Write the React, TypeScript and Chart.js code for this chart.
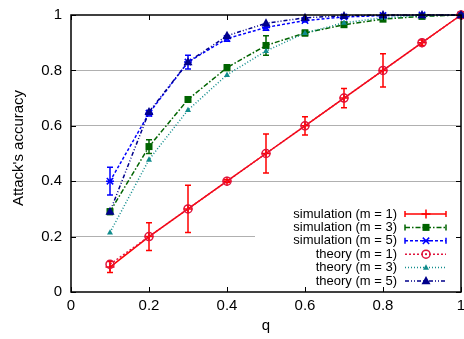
import React, { useEffect, useRef } from "react";
import { Chart, registerables } from "chart.js";

Chart.register(...registerables);

const qValues = [0.1, 0.2, 0.3, 0.4, 0.5, 0.6, 0.7, 0.8, 0.9, 1.0];
const simM1 = [0.09, 0.2, 0.3, 0.4, 0.5, 0.6, 0.7, 0.8, 0.9, 1.0];
const simM1Err = [0.02, 0.05, 0.085, 0.005, 0.07, 0.033, 0.035, 0.06, 0.01, 0];
const simM3 = [0.29, 0.525, 0.695, 0.81, 0.89, 0.935, 0.965, 0.985, 0.995, 1.0];
const simM3Err = [0.01, 0.025, 0.01, 0.01, 0.035, 0.01, 0.005, 0.005, 0.003, 0];
const simM5 = [0.4, 0.645, 0.83, 0.915, 0.955, 0.98, 0.993, 0.998, 1.0, 1.0];
const simM5Err = [0.05, 0.01, 0.025, 0.01, 0.01, 0.005, 0.003, 0, 0, 0];
const thM1 = [0.1, 0.2, 0.3, 0.4, 0.5, 0.6, 0.7, 0.8, 0.9, 1.0];
const thM3 = [0.215, 0.478, 0.657, 0.784, 0.87, 0.935, 0.972, 0.99, 0.998, 1.0];
const thM5 = [0.29, 0.65, 0.83, 0.925, 0.97, 0.99, 0.997, 1.0, 1.0, 1.0];

const xTicks = [0, 0.2, 0.4, 0.6, 0.8, 1];
const yTicks = [0, 0.2, 0.4, 0.6, 0.8, 1];
const xTitle = "q";
const yTitle = "Attack's accuracy";

const FONT = "'Liberation Sans', Arial, Helvetica, sans-serif";

type SeriesDef = {
  label: string;
  values: number[];
  err?: number[];
  color: string;
  dash: number[];
  marker: string;
  radius: number;
  fill: boolean;
};

const series: SeriesDef[] = [
  { label: "simulation (m = 1)", values: simM1, err: simM1Err, color: "#ff0000", dash: [], marker: "cross", radius: 4.5, fill: true },
  { label: "simulation (m = 3)", values: simM3, err: simM3Err, color: "#006400", dash: [5, 2, 1.5, 2], marker: "rect", radius: 3.5, fill: true },
  { label: "simulation (m = 5)", values: simM5, err: simM5Err, color: "#0000ff", dash: [3, 2], marker: "star", radius: 4, fill: true },
  { label: "theory (m = 1)", values: thM1, color: "#e0143c", dash: [2, 2], marker: "circle", radius: 4, fill: false },
  { label: "theory (m = 3)", values: thM3, color: "#108c8c", dash: [1, 2], marker: "triangle", radius: 3, fill: true },
  { label: "theory (m = 5)", values: thM5, color: "#00008b", dash: [4, 2, 1, 2, 1, 2], marker: "triangle", radius: 4.5, fill: true },
];

function drawMarker(ctx: CanvasRenderingContext2D, s: SeriesDef, x: number, y: number) {
  const r = s.radius;
  ctx.save();
  ctx.setLineDash([]);
  ctx.strokeStyle = s.color;
  ctx.fillStyle = s.color;
  ctx.lineWidth = 1.5;
  ctx.beginPath();
  if (s.marker === "cross") {
    ctx.moveTo(x - r, y); ctx.lineTo(x + r, y);
    ctx.moveTo(x, y - r); ctx.lineTo(x, y + r);
    ctx.stroke();
  } else if (s.marker === "rect") {
    ctx.fillRect(x - r, y - r, 2 * r, 2 * r);
  } else if (s.marker === "star") {
    const d = r * 0.8;
    ctx.moveTo(x - d, y - d); ctx.lineTo(x + d, y + d);
    ctx.moveTo(x - d, y + d); ctx.lineTo(x + d, y - d);
    ctx.moveTo(x - r, y); ctx.lineTo(x + r, y);
    ctx.stroke();
  } else if (s.marker === "circle") {
    ctx.arc(x, y, r, 0, Math.PI * 2);
    ctx.stroke();
    ctx.beginPath();
    ctx.arc(x, y, 1, 0, Math.PI * 2);
    ctx.fill();
  } else if (s.marker === "triangle") {
    ctx.moveTo(x, y - r * 1.1);
    ctx.lineTo(x + r, y + r * 0.7);
    ctx.lineTo(x - r, y + r * 0.7);
    ctx.closePath();
    ctx.fill();
  }
  ctx.restore();
}

const gnuplotPlugin = {
  id: "gnuplotDecor",
  beforeDatasetsDraw(chart: any) {
    const ctx: CanvasRenderingContext2D = chart.ctx;
    const xs = chart.scales.x;
    const ys = chart.scales.y;
    ctx.save();
    series.forEach((s) => {
      if (!s.err) return;
      ctx.strokeStyle = s.color;
      ctx.lineWidth = 1.5;
      ctx.setLineDash([]);
      s.values.forEach((v, i) => {
        const e = s.err![i];
        if (!e) return;
        const px = xs.getPixelForValue(qValues[i]);
        const top = ys.getPixelForValue(Math.min(v + e, 1));
        const bot = ys.getPixelForValue(v - e);
        ctx.beginPath();
        ctx.moveTo(px, top); ctx.lineTo(px, bot);
        ctx.moveTo(px - 3, top); ctx.lineTo(px + 3, top);
        ctx.moveTo(px - 3, bot); ctx.lineTo(px + 3, bot);
        ctx.stroke();
      });
    });
    ctx.restore();
  },
  afterDatasetsDraw(chart: any) {
    const ctx: CanvasRenderingContext2D = chart.ctx;
    const a = chart.chartArea;
    const xs = chart.scales.x;
    const ys = chart.scales.y;
    // markers
    series.forEach((s) => {
      s.values.forEach((v, i) => {
        drawMarker(ctx, s, xs.getPixelForValue(qValues[i]), ys.getPixelForValue(v));
      });
    });
    // key
    ctx.save();
    ctx.fillStyle = "#ffffff";
    ctx.fillRect(255, 201, a.right - 1 - 255, a.bottom - 1 - 201);
    ctx.font = "13px " + FONT;
    ctx.textAlign = "right";
    ctx.textBaseline = "middle";
    series.forEach((s, i) => {
      const y = 214 + i * 13.4;
      ctx.fillStyle = "#000";
      ctx.fillText(s.label, 397, y);
      ctx.strokeStyle = s.color;
      ctx.lineWidth = 1.5;
      ctx.setLineDash(s.dash);
      ctx.beginPath();
      ctx.moveTo(405, y); ctx.lineTo(446, y);
      ctx.stroke();
      ctx.setLineDash([]);
      if (s.err) {
        ctx.beginPath();
        ctx.moveTo(405, y - 3); ctx.lineTo(405, y + 3);
        ctx.moveTo(446, y - 3); ctx.lineTo(446, y + 3);
        ctx.stroke();
      }
      drawMarker(ctx, s, 426, y);
    });
    ctx.restore();
    // inward ticks
    ctx.save();
    ctx.strokeStyle = "#000";
    ctx.lineWidth = 1;
    ctx.beginPath();
    xTicks.forEach((t) => {
      const px = Math.round(xs.getPixelForValue(t)) + 0.5;
      ctx.moveTo(px, a.bottom); ctx.lineTo(px, a.bottom - 5);
      ctx.moveTo(px, a.top); ctx.lineTo(px, a.top + 5);
    });
    yTicks.forEach((t) => {
      const py = Math.round(ys.getPixelForValue(t)) + 0.5;
      ctx.moveTo(a.left, py); ctx.lineTo(a.left + 5, py);
      ctx.moveTo(a.right, py); ctx.lineTo(a.right - 5, py);
    });
    ctx.stroke();
    // border
    ctx.lineWidth = 1.5;
    ctx.strokeRect(a.left, a.top, a.right - a.left, a.bottom - a.top);
    // titles
    ctx.fillStyle = "#000";
    ctx.font = "15px " + FONT;
    ctx.textAlign = "center";
    ctx.textBaseline = "middle";
    ctx.fillText(xTitle, (a.left + a.right) / 2, 326);
    ctx.translate(19, 148);
    ctx.rotate(-Math.PI / 2);
    ctx.fillText(yTitle, 0, 0);
    ctx.restore();
  },
};

export default function App() {
  const ref = useRef<HTMLCanvasElement | null>(null);
  useEffect(() => {
    document.body.style.margin = "0";
    if (!ref.current) return;
    const chart = new Chart(ref.current, {
      type: "line",
      data: {
        datasets: series.map((s, i) => ({
          label: s.label,
          data: s.values.map((v, j) => ({ x: qValues[j], y: v })),
          borderColor: s.color,
          backgroundColor: s.color,
          borderWidth: 1.5,
          borderDash: s.dash,
          pointRadius: 0,
          tension: 0,
          clip: false as any,
          order: 10 - i,
        })),
      },
      options: {
        animation: false,
        responsive: false,
        devicePixelRatio: 1,
        layout: { padding: { top: 15, right: 3, left: 0, bottom: 0 } },
        plugins: { legend: { display: false }, tooltip: { enabled: false } },
        scales: {
          x: {
            type: "linear",
            min: 0,
            max: 1,
            afterBuildTicks: (scale: any) => {
              scale.ticks = xTicks.map((v) => ({ value: v }));
            },
            afterFit: (scale: any) => {
              scale.height = 47;
              scale.paddingLeft = 0;
              scale.paddingRight = 0;
            },
            ticks: {
              color: "#000",
              font: { family: FONT, size: 15 },
              padding: 5,
              maxRotation: 0,
              callback: (v: any) => String(Number(Number(v).toFixed(1))),
            },
            grid: { display: false, drawTicks: false },
            border: { display: false },
          },
          y: {
            type: "linear",
            min: 0,
            max: 1,
            afterBuildTicks: (scale: any) => {
              scale.ticks = yTicks.map((v) => ({ value: v }));
            },
            afterFit: (scale: any) => {
              scale.width = 71;
              scale.paddingTop = 0;
              scale.paddingBottom = 0;
            },
            ticks: {
              color: "#000",
              font: { family: FONT, size: 15 },
              padding: 9,
              callback: (v: any) => String(Number(Number(v).toFixed(1))),
            },
            grid: {
              drawTicks: false,
              color: (c: any) =>
                c.tick && (c.tick.value === 0 || c.tick.value === 1) ? "rgba(0,0,0,0)" : "#b0b0b0",
              lineWidth: 1,
            },
            border: { display: false },
          },
        },
      },
      plugins: [gnuplotPlugin],
    });
    return () => chart.destroy();
  }, []);
  return (
    <div style={{ position: "fixed", left: 0, top: 0, width: 464, height: 339 }}>
      <canvas ref={ref} width={464} height={339} />
    </div>
  );
}
